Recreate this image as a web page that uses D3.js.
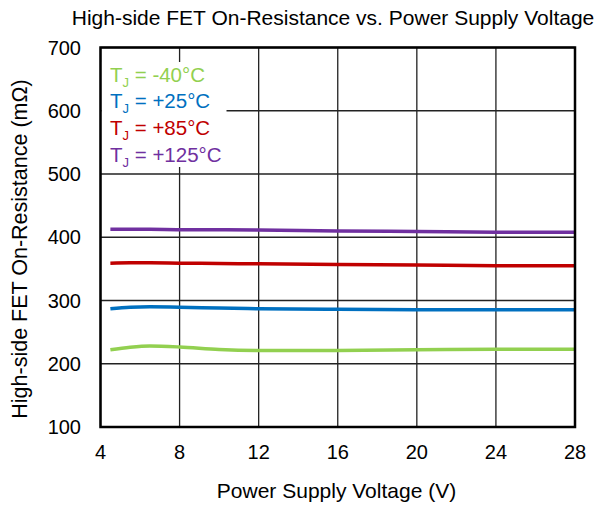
<!DOCTYPE html>
<html lang="en">
<head>
<meta charset="UTF-8">
<title>High-side FET On-Resistance vs. Power Supply Voltage</title>
<script src="https://d3js.org/d3.v7.min.js"></script>
<style>
    body { margin: 0; background: #fff; }
    svg { display: block; font-family: "Liberation Sans", Arial, sans-serif; }
</style>
</head>
<body>
<script>
    // data
    const voltage = [4.5, 5.5, 6.5, 8, 10, 12, 16, 20, 24, 28];
    const rNeg40 = [222, 226, 228, 226.5, 222.5, 221, 221, 222, 223, 223];
    const r25 = [287, 289.5, 290, 289.5, 288, 287, 286, 285.5, 285.5, 285.5];
    const r85 = [359, 359.5, 359.5, 359, 358.5, 358, 357, 356, 355, 355];
    const r125 = [412.5, 412.5, 412.5, 412, 412, 411.5, 410, 409, 408, 408];

    const seriesNames = ["-40°C", "+25°C", "+85°C", "+125°C"];
    const seriesColors = ["#92d050", "#0070c0", "#c00000", "#7030a0"];
    const seriesValues = [rNeg40, r25, r85, r125];

    const xTicks = [4, 8, 12, 16, 20, 24, 28];
    const yTicks = [100, 200, 300, 400, 500, 600, 700];

    const width = 601, height = 507;
    const margin = {left: 100.5, right: 26, top: 47.5, bottom: 80};

    const svg = d3.select("body").append("svg")
        .attr("width", width)
        .attr("height", height);

    const x = d3.scaleLinear().domain([4, 28]).range([margin.left, width - margin.right]);
    const y = d3.scaleLinear().domain([100, 700]).range([height - margin.bottom, margin.top]);

    // grid
    svg.append("g")
        .selectAll("line")
        .data(xTicks)
        .enter().append("line")
        .attr("x1", d => x(d)).attr("x2", d => x(d))
        .attr("y1", y(700)).attr("y2", y(100))
        .attr("stroke", "#222").attr("stroke-width", 1.3);

    svg.append("g")
        .selectAll("line")
        .data(yTicks)
        .enter().append("line")
        .attr("x1", x(4)).attr("x2", x(28))
        .attr("y1", d => y(d)).attr("y2", d => y(d))
        .attr("stroke", "#222").attr("stroke-width", 1.3);

    // legend background covers the grid
    svg.append("rect")
        .attr("x", x(4) + 1).attr("y", 62)
        .attr("width", 125).attr("height", 105)
        .attr("fill", "#fff");

    // curves
    const line = d3.line()
        .x(d => x(d[0]))
        .y(d => y(d[1]))
        .curve(d3.curveMonotoneX);

    seriesValues.forEach((vals, i) => {
        svg.append("path")
            .datum(voltage.map((v, j) => [v, vals[j]]))
            .attr("d", line)
            .attr("fill", "none")
            .attr("stroke", seriesColors[i])
            .attr("stroke-width", 3.5);
    });

    // frame
    svg.append("rect")
        .attr("x", x(4)).attr("y", y(700))
        .attr("width", x(28) - x(4)).attr("height", y(100) - y(700))
        .attr("fill", "none")
        .attr("stroke", "#000")
        .attr("stroke-width", 2.5);

    // tick labels
    svg.append("g")
        .selectAll("text")
        .data(xTicks)
        .enter().append("text")
        .attr("x", d => x(d))
        .attr("y", 459)
        .attr("text-anchor", "middle")
        .attr("font-size", 20)
        .text(d => d);

    svg.append("g")
        .selectAll("text")
        .data(yTicks)
        .enter().append("text")
        .attr("x", 81)
        .attr("y", d => y(d) + 7)
        .attr("text-anchor", "end")
        .attr("font-size", 20)
        .text(d => d);

    // legend
    const legend = svg.append("g")
        .selectAll("text")
        .data(seriesNames)
        .enter().append("text")
        .attr("x", 110)
        .attr("y", (d, i) => 81.5 + i * 26.7)
        .attr("font-size", 20.5)
        .attr("fill", (d, i) => seriesColors[i]);
    legend.append("tspan").text("T");
    legend.append("tspan").attr("font-size", 13).attr("dy", 5).text("J");
    legend.append("tspan").attr("dy", -5).text(d => " = " + d);

    // titles
    svg.append("text")
        .attr("x", 333).attr("y", 25)
        .attr("text-anchor", "middle")
        .attr("font-size", 21)
        .text("High-side FET On-Resistance vs. Power Supply Voltage");

    svg.append("text")
        .attr("x", 336.5).attr("y", 498)
        .attr("text-anchor", "middle")
        .attr("font-size", 21)
        .text("Power Supply Voltage (V)");

    svg.append("text")
        .attr("transform", "translate(27, 249) rotate(-90)")
        .attr("text-anchor", "middle")
        .attr("font-size", 21.5)
        .text("High-side FET On-Resistance (mΩ)");
</script>
</body>
</html>
